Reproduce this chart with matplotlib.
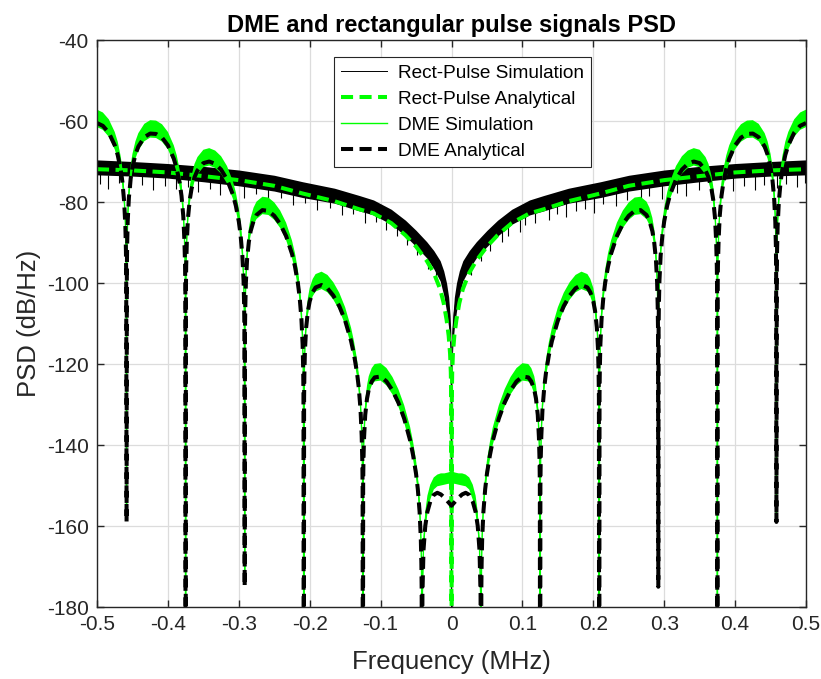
import numpy as np
import matplotlib
matplotlib.use("Agg")
import matplotlib.pyplot as plt

plt.rcParams["font.family"] = ["Liberation Sans", "DejaVu Sans"]
plt.rcParams["axes.unicode_minus"] = False

# ---------------------------------------------------------------------------
# Positive-frequency half of each spectrum (MHz, dB/Hz); PSDs are even in f.
# ---------------------------------------------------------------------------

# Rectangular pulse train, analytical PSD
rect_f = [0, 0.0005, 0.001, 0.002, 0.004, 0.007, 0.011, 0.016, 0.025, 0.035,
          0.05, 0.065, 0.085, 0.11, 0.13, 0.165, 0.21, 0.25, 0.3, 0.35, 0.4,
          0.45, 0.5]
rect_db = [-200, -128, -122, -117.5, -113, -109, -105, -101.5, -97.5, -94.5,
           -91, -88.2, -85.2, -82.8, -81.8, -79.8, -77.9, -76.0, -74.6, -73.6,
           -72.7, -72.2, -71.9]
# Rectangular pulse train, simulated (periodogram) spread
rect_sim_hi = [-190, -118, -112, -108, -103.5, -100, -97, -94.5, -92, -89.8,
               -87, -84.5, -81.8, -79.5, -78.4, -76.6, -75.0, -73.4, -72.1,
               -71.2, -70.5, -70.0, -69.6]
rect_sim_lo = [-190, -125, -119, -115, -111, -107, -103, -99.5, -96.5, -93.8,
               -91, -88.4, -85.5, -83.2, -82.2, -80.3, -78.9, -77.3, -76.0,
               -75.0, -74.1, -73.6, -73.3]
# Downward excursions of the simulated rectangular-pulse PSD (f, lowest dB)
spike_f = [-0.496, -0.484, -0.469, -0.452, -0.437, -0.421, -0.404, -0.389,
           -0.372, -0.357, -0.341, -0.326, -0.309, -0.293, -0.276, -0.259,
           -0.241, -0.223, -0.206, -0.19, -0.171, -0.155, -0.139, -0.122,
           -0.106, -0.093, -0.077, -0.063, -0.048, -0.033, -0.022,
           0.028, 0.042, 0.055, 0.071, 0.079, 0.097, 0.104, 0.118, 0.137,
           0.149, 0.162, 0.176, 0.188, 0.201, 0.214, 0.232, 0.248, 0.267,
           0.279, 0.297, 0.318, 0.331, 0.349, 0.366, 0.381, 0.397, 0.412,
           0.428, 0.441, 0.459, 0.472, 0.487, 0.498]
spike_db = [-75.6, -76.9, -75.4, -76.3, -75.9, -77.1, -76.1, -76.8,
            -76.4, -77.5, -76.9, -78.2, -77.4, -78.9, -78.0, -79.6,
            -79.0, -80.7, -80.2, -82.0, -81.4, -83.3, -82.9, -85.1,
            -85.0, -87.0, -88.3, -90.5, -93.0, -96.5, -99.5,
            -98.0, -94.5, -92.0, -89.9, -88.5, -87.3, -85.6, -85.2, -84.5,
            -83.0, -83.8, -82.3, -81.7, -82.6, -80.6, -81.0, -79.4, -79.8,
            -78.5, -79.3, -77.9, -78.6, -77.0, -77.7, -76.4, -77.3, -76.0,
            -77.0, -75.8, -76.6, -75.5, -76.4, -75.2]

# DME pulse pairs, analytical PSD: central lobe
dme_center_f = [0, 0.005, 0.01, 0.015, 0.02, 0.025, 0.03, 0.034, 0.037,
                0.0395, 0.041]
dme_center_db = [-155, -154, -153, -152.2, -151.8, -152.3, -154, -156.5, -160,
                 -166, -177]
# DME simulated spread over the central lobe
dme_center_sim_hi = [-146.5, -146.8, -147.0, -147.0, -147.3, -148.0, -149.8,
                     -152.5, -156.5, -163, -175]
dme_center_sim_lo = [-149.5, -149.6, -149.8, -150.0, -150.2, -151.0, -153.5,
                     -157.0, -161.0, -167.5, -178]

# DME pulse pairs, analytical PSD: side lobes (nulls every 1/12 MHz)
dme_lobe_f = [
    0.0417, 0.0421, 0.0425, 0.0433, 0.0450, 0.0475, 0.0500, 0.0542, 0.0583,
    0.0667, 0.0750, 0.0833, 0.0917, 0.1000, 0.1083, 0.1125, 0.1167, 0.1192,
    0.1217, 0.1233, 0.1242, 0.1246,
    0.1250, 0.1254, 0.1258, 0.1267, 0.1283, 0.1308, 0.1333, 0.1375, 0.1417,
    0.1500, 0.1583, 0.1667, 0.1750, 0.1833, 0.1917, 0.1958, 0.2000, 0.2025,
    0.2050, 0.2067, 0.2075, 0.2079,
    0.2083, 0.2088, 0.2092, 0.2100, 0.2117, 0.2142, 0.2167, 0.2208, 0.2250,
    0.2333, 0.2417, 0.2500, 0.2583, 0.2667, 0.2750, 0.2792, 0.2833, 0.2858,
    0.2883, 0.2900, 0.2908, 0.2913,
    0.2917, 0.2921, 0.2925, 0.2933, 0.2950, 0.2975, 0.3000, 0.3042, 0.3083,
    0.3167, 0.3250, 0.3333, 0.3417, 0.3500, 0.3583, 0.3625, 0.3667, 0.3692,
    0.3717, 0.3733, 0.3742, 0.3746,
    0.3750, 0.3754, 0.3758, 0.3767, 0.3783, 0.3808, 0.3833, 0.3875, 0.3917,
    0.4000, 0.4083, 0.4167, 0.4250, 0.4333, 0.4417, 0.4458, 0.4500, 0.4525,
    0.4550, 0.4567, 0.4575, 0.4579,
    0.4583, 0.4588, 0.4592, 0.4600, 0.4617, 0.4642, 0.4667, 0.4708, 0.4750,
    0.4833, 0.4917, 0.5000]
dme_lobe_db = [
    -250, -175.5, -169.3, -163.0, -156.5, -150.9, -147.1, -142.5, -138.9,
    -133.5, -129.5, -126.5, -124.3, -123.1, -123.3, -124.3, -126.3, -128.6,
    -132.6, -138.1, -143.8, -149.7,
    -250, -150.1, -143.9, -137.7, -131.3, -125.8, -122.1, -117.7, -114.3,
    -109.3, -105.7, -103.1, -101.3, -100.5, -101.1, -102.3, -104.5, -106.9,
    -111.0, -116.6, -122.4, -128.3,
    -250, -127.4, -121.3, -115.1, -108.8, -103.5, -100.0, -95.9, -92.8,
    -88.4, -85.4, -83.4, -82.2, -82.0, -83.2, -84.7, -87.2, -89.8,
    -94.1, -99.8, -105.6, -111.6,
    -175, -111.6, -105.5, -99.4, -93.2, -88.1, -84.8, -80.9, -78.2,
    -74.4, -72.0, -70.6, -70.0, -70.4, -72.2, -73.9, -76.8, -79.5,
    -84.0, -89.8, -95.7, -101.7,
    -250, -101.7, -95.7, -89.6, -83.5, -78.5, -75.4, -71.8, -69.3,
    -66.0, -64.1, -63.2, -63.1, -64.0, -66.3, -68.3, -71.4, -74.2,
    -78.9, -84.8, -90.8, -96.8,
    -159, -98.1, -92.0, -86.0, -79.9, -75.0, -71.9, -68.4, -66.0,
    -62.9, -61.2, -60.5]
# spread of the simulated DME estimate around the side-lobe curve (dB)
dme_sim_spread = (-1.0, 3.3)

x_ticks = [-0.5, -0.4, -0.3, -0.2, -0.1, 0, 0.1, 0.2, 0.3, 0.4, 0.5]
x_ticklabels = ["-0.5", "-0.4", "-0.3", "-0.2", "-0.1", "0", "0.1", "0.2",
                "0.3", "0.4", "0.5"]
y_ticks = [-180, -160, -140, -120, -100, -80, -60, -40]


def mirror(f, v):
    """Build the two-sided spectrum from its non-negative half."""
    f = np.asarray(f, float)
    v = np.asarray(v, float)
    if f[0] == 0:
        return np.r_[-f[:0:-1], f], np.r_[v[:0:-1], v]
    return np.r_[-f[::-1], f], np.r_[v[::-1], v]


GREEN = "#00ff00"
AXC = "#262626"

fig = plt.figure(figsize=(8.21, 6.79), dpi=100)
ax = fig.add_axes([97 / 821, 1 - 607 / 679, 709 / 821, 567 / 679])

# Rect-pulse simulation
rf, rhi = mirror(rect_f, rect_sim_hi)
_, rlo = mirror(rect_f, rect_sim_lo)
ax.fill_between(rf, rlo, rhi, color="black", lw=0, zorder=2)
ax.vlines(spike_f, spike_db, np.asarray(spike_db) + 3.5, color="black",
          lw=0.8, zorder=2)
ax.plot(rf, (rhi + rlo) / 2, color="black", lw=0.7, zorder=2,
        label="Rect-Pulse Simulation")

# Rect-pulse analytical
raf, radb = mirror(rect_f, rect_db)
ax.plot(raf, radb, color=GREEN, lw=2.9, dashes=(3.0, 1.6), zorder=3,
        label="Rect-Pulse Analytical")

# DME simulation
half_f = np.r_[dme_center_f, dme_lobe_f]
half_db = np.r_[dme_center_db, dme_lobe_db]
lobe_db = np.asarray(dme_lobe_db)
half_hi = np.r_[dme_center_sim_hi, lobe_db + dme_sim_spread[1]]
half_lo = np.r_[dme_center_sim_lo, lobe_db + dme_sim_spread[0]]
df, dhi = mirror(half_f, half_hi)
_, dlo = mirror(half_f, half_lo)
ax.fill_between(df, dlo, dhi, color=GREEN, lw=0, zorder=4)
ax.plot(df, (dhi + dlo) / 2, color=GREEN, lw=1.0, zorder=4,
        label="DME Simulation")

# DME analytical
daf, dadb = mirror(half_f, half_db)
ax.plot(daf, dadb, color="black", lw=2.9, dashes=(3.0, 1.6), zorder=5,
        label="DME Analytical")

ax.set_xlim(-0.5, 0.5)
ax.set_ylim(-180, -40)
ax.set_xticks(x_ticks)
ax.set_xticklabels(x_ticklabels)
ax.set_yticks(y_ticks)
ax.grid(True, color="#dcdcdc", lw=0.9)
ax.set_axisbelow(True)
for s in ax.spines.values():
    s.set_color(AXC)
    s.set_linewidth(1.0)
    s.set_zorder(10)
ax.tick_params(direction="in", length=5, width=1.0, color=AXC,
               labelcolor=AXC, labelsize=15, top=True, right=True, pad=6)

ax.set_title("DME and rectangular pulse signals PSD", fontsize=17,
             fontweight="bold", color="black", pad=6)
ax.set_xlabel("Frequency (MHz)", fontsize=18.5, color=AXC, labelpad=11)
ax.set_ylabel("PSD (dB/Hz)", fontsize=18.5, color=AXC, labelpad=4)

leg = ax.legend(loc="upper center", bbox_to_anchor=(0.5155, 0.970),
                fontsize=13.7, frameon=True, fancybox=False, framealpha=1,
                edgecolor=AXC, handlelength=2.4, handletextpad=0.55,
                labelspacing=0.45, borderpad=0.4, borderaxespad=0)
leg.get_frame().set_linewidth(0.8)
leg.set_zorder(20)

fig.savefig("out.png", dpi=100)
